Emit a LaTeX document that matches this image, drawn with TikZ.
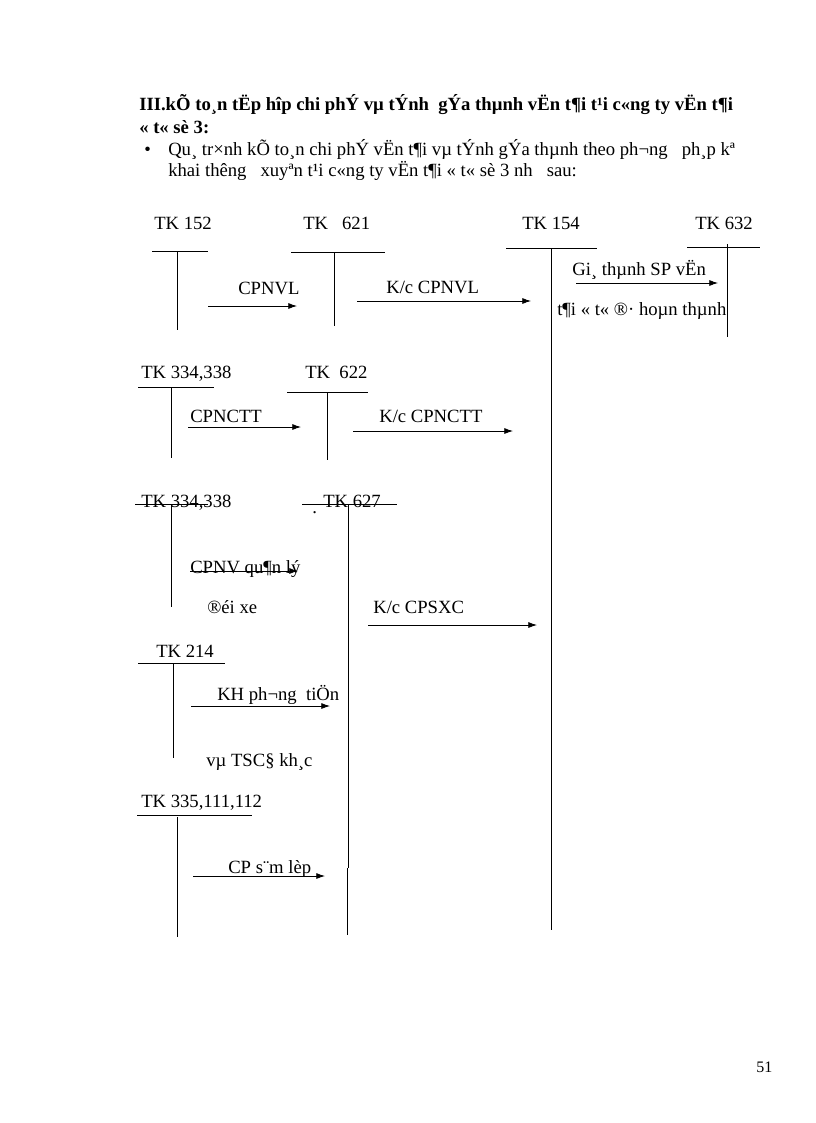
\documentclass[tikz,border=0pt]{standalone}
\usepackage{fontspec}
\setmainfont{Liberation Serif}
\usetikzlibrary{arrows.meta}
\begin{document}
\begin{tikzpicture}[x=0.75pt,y=-0.75pt,
  lbl/.style={anchor=base west, inner sep=0pt, font=\fontsize{14}{16}\selectfont},
  ttl/.style={lbl, font=\fontsize{14}{16}\selectfont\bfseries},
  acc/.style={line width=0.6pt},
  arr/.style={line width=0.6pt, -{Latex[length=6.5pt,width=4.5pt]}}]
\useasboundingbox (0,0) rectangle (816,1123);

% heading
\node[ttl] (t1) at (139,111) {III.kÕ to¸n tËp hîp chi phÝ vµ tÝnh\ \ gÝa thµnh vËn t¶i t¹i c«ng ty vËn t¶i};
\node[ttl] (t2) at (139,134) {« t« sè 3:};
\node[lbl] (bul) at (144,156) {•};
\node[lbl] (t3) at (168,156) {Qu¸ tr×nh kÕ to¸n chi phÝ vËn t¶i vµ tÝnh gÝa thµnh theo ph¬ng\ \ \ ph¸p kª};
\node[lbl] (t4) at (168,177) {khai thêng\ \ \ xuyªn t¹i c«ng ty vËn t¶i « t« sè 3 nh\ \ \ sau:};

% ---------- row 1 ----------
\node[lbl] (k152) at (154,229) {TK 152};
\coordinate (h152l) at (152,251); \coordinate (h152r) at (208,251);
\coordinate (v152t) at (177,251); \coordinate (v152b) at (177,330);
\draw[acc] (h152l) -- (h152r); \draw[acc] (v152t) -- (v152b);

\node[lbl] (k621) at (303,229) {TK\ \ \ 621};
\coordinate (h621l) at (291,252); \coordinate (h621r) at (385,252);
\coordinate (v621t) at (334,252); \coordinate (v621b) at (334,326);
\draw[acc] (h621l) -- (h621r); \draw[acc] (v621t) -- (v621b);

\node[lbl] (k154) at (522,229) {TK 154};
\coordinate (h154l) at (506,248); \coordinate (h154r) at (597,248);
\coordinate (v154t) at (551,248); \coordinate (v154b) at (551,930);
\draw[acc] (h154l) -- (h154r); \draw[acc] (v154t) -- (v154b);

\node[lbl] (k632) at (695,229) {TK 632};
\coordinate (h632l) at (687,247); \coordinate (h632r) at (760,247);
\coordinate (v632t) at (727,244); \coordinate (v632b) at (727,337);
\draw[acc] (h632l) -- (h632r); \draw[acc] (v632t) -- (v632b);

\node[lbl] (l1) at (238,294) {CPNVL};
\coordinate (a1s) at (208,306); \coordinate (a1e) at (297,306);
\draw[arr] (a1s) -- (a1e);

\node[lbl] (l2) at (386,293) {K/c CPNVL};
\coordinate (a2s) at (357,301); \coordinate (a2e) at (531,301);
\draw[arr] (a2s) -- (a2e);

\node[lbl] (l3) at (572,275) {Gi¸ thµnh SP vËn};
\coordinate (a3s) at (576,283); \coordinate (a3e) at (718,283);
\draw[arr] (a3s) -- (a3e);
\node[lbl] (l3b) at (557,315) {t¶i « t« ®· hoµn thµnh};

% ---------- row 2 ----------
\node[lbl] (k334a) at (141,378) {TK 334,338};
\coordinate (h334al) at (138,387); \coordinate (h334ar) at (214,387);
\coordinate (v334at) at (171,387); \coordinate (v334ab) at (171,458);
\draw[acc] (h334al) -- (h334ar); \draw[acc] (v334at) -- (v334ab);

\node[lbl] (k622) at (305,378) {TK\ \ 622};
\coordinate (h622l) at (287,392); \coordinate (h622r) at (368,392);
\coordinate (v622t) at (327,392); \coordinate (v622b) at (327,460);
\draw[acc] (h622l) -- (h622r); \draw[acc] (v622t) -- (v622b);

\node[lbl] (l4) at (190,422) {CPNCTT};
\coordinate (a4s) at (188,427); \coordinate (a4e) at (301,427);
\draw[arr] (a4s) -- (a4e);

\node[lbl] (l5) at (379,422) {K/c CPNCTT};
\coordinate (a5s) at (353,431); \coordinate (a5e) at (513,431);
\draw[arr] (a5s) -- (a5e);

% ---------- row 3 ----------
\node[lbl] (k334b) at (141,507) {TK 334,338};
\coordinate (h334bl) at (135,504); \coordinate (h334br) at (208,504);
\coordinate (v334bt) at (171,504); \coordinate (v334bb) at (171,607);
\draw[acc] (h334bl) -- (h334br); \draw[acc] (v334bt) -- (v334bb);

\node[lbl] (dot) at (312,513) {.};
\node[lbl] (k627) at (323,507) {TK 627};
\coordinate (h627l) at (302,504); \coordinate (h627r) at (397,504);
\coordinate (v627t) at (348,504); \coordinate (v627m) at (348,868);
\coordinate (v627n) at (347,868); \coordinate (v627b) at (347,935);
\draw[acc] (h627l) -- (h627r); \draw[acc] (v627t) -- (v627m); \draw[acc] (v627n) -- (v627b);

\node[lbl] (l6) at (190,573) {CPNV qu¶n lý};
\coordinate (a6s) at (190,571); \coordinate (a6e) at (298,571);
\draw[arr] (a6s) -- (a6e);
\node[lbl] (l6b) at (207,613) {®éi xe};

\node[lbl] (l7) at (373,613) {K/c CPSXC};
\coordinate (a7s) at (368,625); \coordinate (a7e) at (537,625);
\draw[arr] (a7s) -- (a7e);

% ---------- row 4 ----------
\node[lbl] (k214) at (156,657) {TK 214};
\coordinate (h214l) at (138,663); \coordinate (h214r) at (225,663);
\coordinate (v214t) at (173,663); \coordinate (v214b) at (173,758);
\draw[acc] (h214l) -- (h214r); \draw[acc] (v214t) -- (v214b);

\node[lbl] (l8) at (217,700) {KH ph¬ng\ \ tiÖn};
\coordinate (a8s) at (191,706); \coordinate (a8e) at (330,706);
\draw[arr] (a8s) -- (a8e);
\node[lbl] (l8b) at (206,766) {vµ TSC§ kh¸c};

% ---------- row 5 ----------
\node[lbl] (k335) at (141,807) {TK 335,111,112};
\coordinate (h335l) at (137,815); \coordinate (h335r) at (252,815);
\coordinate (v335t) at (177,817); \coordinate (v335b) at (177,937);
\draw[acc] (h335l) -- (h335r); \draw[acc] (v335t) -- (v335b);

\node[lbl] (l9) at (228,873) {CP s¨m lèp};
\coordinate (a9s) at (193,876); \coordinate (a9e) at (325,876);
\draw[arr] (a9s) -- (a9e);

% page number
\node[lbl, font=\fontsize{12}{14}\selectfont] (pg) at (756,1072) {51};
\end{tikzpicture}
\end{document}
